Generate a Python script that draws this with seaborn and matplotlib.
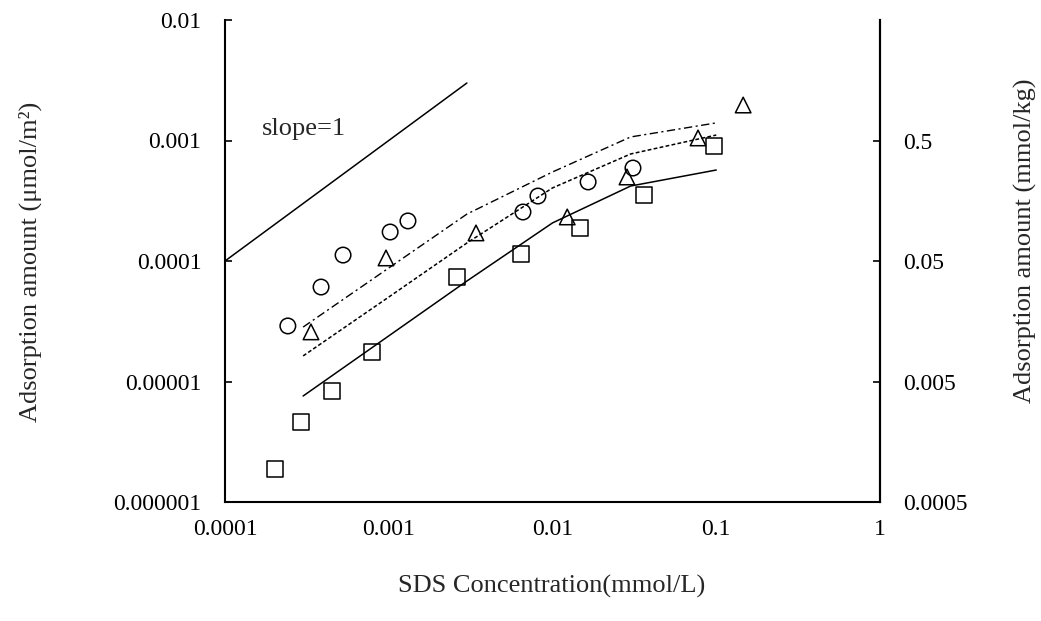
import numpy as np
import pandas as pd
import matplotlib
matplotlib.use("Agg")
import matplotlib.pyplot as plt
import seaborn as sns

# ---- data ----
circle_x = [2.42e-4, 3.86e-4, 5.26e-4, 1.02e-3, 1.31e-3, 6.6e-3, 8.15e-3, 1.65e-2, 3.10e-2]
circle_y = [2.89e-5, 6.08e-5, 1.12e-4, 1.74e-4, 2.15e-4, 2.55e-4, 3.46e-4, 4.53e-4, 5.91e-4]

tri_x = [3.35e-4, 9.62e-4, 3.41e-3, 1.23e-2, 2.85e-2, 7.74e-2, 0.146]
tri_y = [2.58e-5, 1.06e-4, 1.71e-4, 2.32e-4, 4.98e-4, 1.05e-3, 1.97e-3]

sq_x = [2.02e-4, 2.91e-4, 4.5e-4, 7.9e-4, 2.61e-3, 6.42e-3, 1.47e-2, 3.62e-2, 9.69e-2]
sq_y = [1.88e-6, 4.61e-6, 8.34e-6, 1.76e-5, 7.37e-5, 1.14e-4, 1.88e-4, 3.53e-4, 9.0e-4]

model_x = [3e-4, 1e-3, 3e-3, 1e-2, 3e-2, 1e-1]
model_solid = [7.58e-6, 2.39e-5, 6.82e-5, 2.07e-4, 4.19e-4, 5.69e-4]
model_dash = [1.63e-5, 5.02e-5, 1.41e-4, 4.04e-4, 7.73e-4, 1.11e-3]
model_dashdot = [2.83e-5, 8.75e-5, 2.45e-4, 5.48e-4, 1.07e-3, 1.40e-3]

slope_x = [1e-4, 3e-3]
slope_y = [1e-4, 3e-3]

x_ticks = [1e-4, 1e-3, 1e-2, 1e-1, 1]
x_tick_labels = ["0.0001", "0.001", "0.01", "0.1", "1"]
y_ticks = [1e-6, 1e-5, 1e-4, 1e-3, 1e-2]
y_tick_labels = ["0.000001", "0.00001", "0.0001", "0.001", "0.01"]
y2_ticks = [0.0005, 0.005, 0.05, 0.5]
y2_tick_labels = ["0.0005", "0.005", "0.05", "0.5"]
y2_factor = 500.0

# ---- style ----
sns.set_style("white")
plt.rcParams['font.family'] = ['Liberation Serif', 'DejaVu Serif']
FS_TICK = 17
FS_LAB = 19

fig = plt.figure(figsize=(10.41, 6.21), dpi=100)
ax = fig.add_axes([225/1041, 1 - 502/621, (880-225)/1041, (502-20)/621])

# model curves
sns.lineplot(x=model_x, y=model_solid, ax=ax, color='black', lw=1.1, linestyle='-')
sns.lineplot(x=model_x, y=model_dash, ax=ax, color='black', lw=1.1, linestyle=(0, (2.5, 1.5)))
sns.lineplot(x=model_x, y=model_dashdot, ax=ax, color='black', lw=1.0, linestyle=(0, (6, 2.5, 1.5, 2.5)))
# slope=1 reference
sns.lineplot(x=slope_x, y=slope_y, ax=ax, color='black', lw=1.1)

ms = 125
mk = dict(facecolor='none', edgecolor='black', linewidth=1.1, ax=ax, zorder=5)
sns.scatterplot(x=circle_x, y=circle_y, marker='o', s=ms, **mk)
sns.scatterplot(x=tri_x, y=tri_y, marker='^', s=ms, **mk)
sns.scatterplot(x=sq_x, y=sq_y, marker='s', s=ms, **mk)

ax.set_xscale('log')
ax.set_yscale('log')
ax.set_xlim(1e-4, 1)
ax.set_ylim(1e-6, 1e-2)
ax.set_xticks(x_ticks)
ax.set_xticklabels(x_tick_labels)
ax.set_yticks(y_ticks)
ax.set_yticklabels(y_tick_labels)
ax.minorticks_off()
ax.tick_params(axis='both', direction='in', length=5, width=1.2, labelsize=FS_TICK, colors='black')
ax.tick_params(axis='y', pad=17)
ax.tick_params(axis='x', pad=12)
ax.grid(False)
for s in ['left', 'bottom', 'right']:
    ax.spines[s].set_visible(True)
    ax.spines[s].set_color('black')
    ax.spines[s].set_linewidth(1.5)
ax.spines['top'].set_visible(False)

ax2 = ax.twinx()
ax2.set_yscale('log')
ax2.set_ylim(1e-6 * y2_factor, 1e-2 * y2_factor)
ax2.set_yticks(y2_ticks)
ax2.set_yticklabels(y2_tick_labels)
ax2.minorticks_off()
ax2.tick_params(axis='y', direction='in', length=5, width=1.2, labelsize=FS_TICK, pad=16.5, colors='black')
ax2.spines['top'].set_visible(False)
ax2.spines['left'].set_visible(False)
ax2.spines['bottom'].set_visible(False)
ax2.spines['right'].set_color('black')
ax2.spines['right'].set_linewidth(1.5)
ax2.grid(False)

ax.text(3.03e-4, 1.25e-3, "slope=1", fontsize=FS_LAB, ha='center', va='center')

fig.text(30/1041, 1 - 262/621, "Adsorption amount (μmol/m²)", rotation=90,
         fontsize=FS_LAB, ha='center', va='center')
fig.text(1025/1041, 1 - 241/621, "Adsorption amount (mmol/kg)", rotation=90,
         fontsize=FS_LAB, ha='center', va='center')
fig.text(552/1041, 1 - 586/621, "SDS Concentration(mmol/L)", fontsize=FS_LAB,
         ha='center', va='center')

fig.savefig("out.png", dpi=100)
